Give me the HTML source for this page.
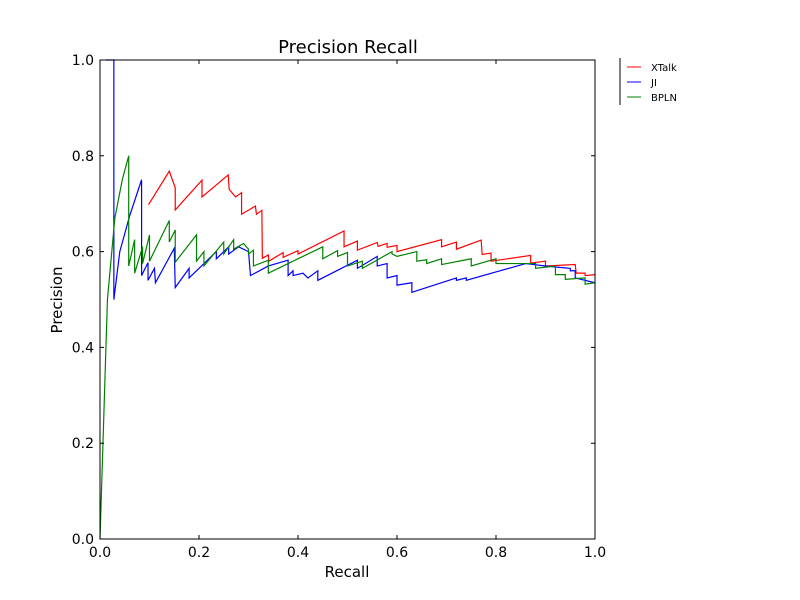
<!DOCTYPE html>
<html><head><meta charset="utf-8"><style>
body{margin:0;background:#fff}
svg{display:block;font-family:"DejaVu Sans","Liberation Sans",sans-serif}
</style></head><body>
<svg id="chart" width="800" height="600" viewBox="0 0 800 600">
<rect width="800" height="600" fill="#fff"/>
<text x="348" y="53" font-size="18" text-anchor="middle">Precision Recall</text>
<g id="series"></g>
<rect x="100" y="60" width="495" height="479" fill="none" stroke="#000" stroke-width="1"/>
<g id="axes"></g>
<text x="347" y="577" font-size="15" text-anchor="middle">Recall</text>
<text x="62" y="300" font-size="15" text-anchor="middle" transform="rotate(-90 62 300)">Precision</text>
<g>
<line x1="620" y1="58" x2="620" y2="105" stroke="#000" stroke-width="1"/>
<g><line x1="627" y1="67" x2="641" y2="67" stroke="red"/><text x="651" y="71" font-size="10">XTalk</text></g>
<g><line x1="627" y1="82" x2="641" y2="82" stroke="blue"/><text x="651" y="86" font-size="10">JI</text></g>
<g><line x1="627" y1="97" x2="641" y2="97" stroke="green"/><text x="651" y="101" font-size="10">BPLN</text></g>
</g>
</svg>
<script>
const xTicks=[0,0.2,0.4,0.6,0.8,1.0];
const yTicks=[0,0.2,0.4,0.6,0.8,1.0];
const xtalkRecall=[0.098,0.140,0.152,0.152,0.206,0.206,0.259,0.261,0.274,0.286,0.286,0.314,0.316,0.327,0.328,0.340,0.341,0.37,0.37,0.4,0.4,0.493,0.493,0.52,0.52,0.56,0.562,0.58,0.58,0.6,0.6,0.69,0.69,0.72,0.72,0.77,0.772,0.79,0.79,0.87,0.87,0.9,0.9,0.96,0.962,0.98,0.98,1.0];
const xtalkPrecision=[0.698,0.768,0.733,0.687,0.749,0.714,0.760,0.730,0.714,0.723,0.678,0.695,0.678,0.686,0.586,0.593,0.580,0.598,0.588,0.602,0.595,0.643,0.610,0.622,0.603,0.619,0.611,0.617,0.609,0.613,0.600,0.625,0.610,0.620,0.605,0.624,0.594,0.597,0.580,0.592,0.576,0.580,0.570,0.573,0.555,0.555,0.550,0.552];
const jiRecall=[0.012,0.028,0.028,0.04,0.06,0.084,0.084,0.097,0.097,0.11,0.112,0.15,0.152,0.18,0.18,0.235,0.235,0.26,0.26,0.28,0.3,0.304,0.34,0.38,0.38,0.39,0.39,0.41,0.42,0.44,0.44,0.52,0.52,0.56,0.56,0.58,0.58,0.6,0.6,0.63,0.63,0.72,0.72,0.74,0.74,0.86,0.9,0.95,0.95,0.96,0.96,1.0];
const jiPrecision=[1.0,1.0,0.5,0.6,0.675,0.75,0.55,0.577,0.54,0.565,0.535,0.607,0.525,0.565,0.545,0.6,0.585,0.61,0.595,0.61,0.6,0.55,0.57,0.582,0.55,0.56,0.55,0.555,0.545,0.56,0.54,0.582,0.565,0.59,0.57,0.575,0.545,0.55,0.53,0.535,0.515,0.545,0.54,0.545,0.54,0.575,0.57,0.565,0.56,0.56,0.545,0.535];
const bplnRecall=[0,0.015,0.03,0.045,0.058,0.058,0.07,0.07,0.086,0.086,0.1,0.1,0.14,0.14,0.152,0.152,0.195,0.195,0.21,0.21,0.25,0.25,0.27,0.27,0.29,0.3,0.3,0.31,0.31,0.34,0.34,0.45,0.45,0.48,0.48,0.5,0.5,0.53,0.53,0.59,0.59,0.6,0.64,0.64,0.66,0.66,0.69,0.69,0.75,0.75,0.8,0.8,0.88,0.88,0.92,0.92,0.94,0.94,0.98,0.98,1.0];
const bplnPrecision=[0,0.5,0.67,0.75,0.8,0.57,0.625,0.555,0.61,0.575,0.635,0.58,0.665,0.62,0.645,0.578,0.635,0.58,0.6,0.57,0.62,0.595,0.625,0.605,0.617,0.605,0.595,0.603,0.57,0.582,0.555,0.61,0.585,0.602,0.59,0.598,0.57,0.58,0.565,0.6,0.595,0.59,0.6,0.58,0.583,0.575,0.585,0.573,0.585,0.57,0.585,0.575,0.575,0.565,0.57,0.552,0.552,0.542,0.545,0.532,0.535];
const NS='http://www.w3.org/2000/svg';
const X0=100,X1=595,Y0=539,Y1=60;
function sx(v){return X0+v*(X1-X0);}
function sy(v){return Y0-v*(Y0-Y1);}
const series=[["xtalk",xtalkRecall,xtalkPrecision,"red"],["ji",jiRecall,jiPrecision,"blue"],["bpln",bplnRecall,bplnPrecision,"green"]];
const g=document.getElementById('series');
series.forEach(s=>{
  const p=document.createElementNS(NS,'polyline');
  p.setAttribute('points',s[1].map((r,i)=>sx(r)+','+sy(s[2][i])).join(' '));
  p.setAttribute('fill','none');p.setAttribute('stroke',s[3]);p.setAttribute('stroke-width','1.2');
  
  
  g.appendChild(p);
});
const ax=document.getElementById('axes');
xTicks.forEach(t=>{
  const l=document.createElementNS(NS,'path');
  l.setAttribute('d',`M${sx(t)},${Y0}v-4M${sx(t)},${Y1}v4`);l.setAttribute('stroke','#000');
  
  
  ax.appendChild(l);
  const tx=document.createElementNS(NS,'text');
  tx.setAttribute('x',sx(t));tx.setAttribute('y',Y0+18);tx.setAttribute('font-size','14');tx.setAttribute('text-anchor','middle');
  tx.textContent=t.toFixed(1);
  
  
  ax.appendChild(tx);
});
yTicks.forEach(t=>{
  const l=document.createElementNS(NS,'path');
  l.setAttribute('d',`M${X0},${sy(t)}h4M${X1},${sy(t)}h-4`);l.setAttribute('stroke','#000');
  
  
  ax.appendChild(l);
  const tx=document.createElementNS(NS,'text');
  tx.setAttribute('x',X0-6);tx.setAttribute('y',sy(t)+5);tx.setAttribute('font-size','14');tx.setAttribute('text-anchor','end');
  tx.textContent=t.toFixed(1);
  
  
  ax.appendChild(tx);
});
</script>
</body></html>
